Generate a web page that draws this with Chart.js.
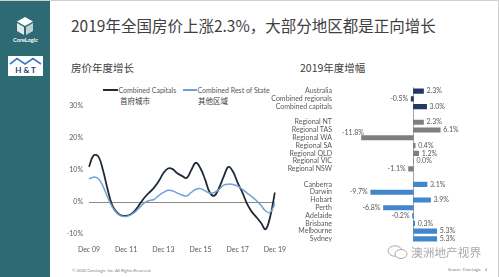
<!DOCTYPE html>
<html>
<head>
<meta charset="utf-8">
<script src="https://cdn.jsdelivr.net/npm/chart.js@4.4.1/dist/chart.umd.min.js"></script>
<style>
  html, body { margin: 0; padding: 0; }
  body { width: 499px; height: 277px; position: relative; overflow: hidden; background: #fff; font-family: Lato, "Noto Sans CJK SC", sans-serif; }
  .abs { position: absolute; white-space: nowrap; }
  #sidebar { left: 0; top: 0; width: 50px; height: 277px; background: #2d6a73; }
  #frame { left: 0; top: 0; border-top: 1px solid #cfcfcf; border-right: 1px solid #cfcfcf; box-sizing: border-box; width: 499px; height: 277px; pointer-events: none; }
  #title { left: 71px; top: 14px; font-family: "Noto Sans CJK SC", sans-serif; font-size: 15.5px; color: #404040; line-height: 22px; }
  .sub { font-family: "Noto Sans CJK SC", sans-serif; font-size: 10.5px; color: #404040; line-height: 14px; }
  .leg { font-size: 7px; color: #595959; line-height: 9px; }
  .legcn { font-family: "Noto Sans CJK SC", sans-serif; font-size: 7.5px; color: #404040; line-height: 10px; }
  .swatch { height: 2px; }
  .foot { font-size: 4.2px; color: #7f7f7f; line-height: 6px; }
  #wm { left: 411px; top: 244px; font-family: "Noto Sans CJK SC", sans-serif; font-size: 11.7px; color: #a8a8a8; line-height: 16px; }
</style>
</head>
<body>
<div id="sidebar" class="abs"></div>
<svg class="abs" style="left:16px;top:17px" width="18" height="19" viewBox="0 0 18 19">
  <polygon points="9,0 17,4.5 9,9 1,4.5" fill="#fff"/>
  <polygon points="1,6 8,10 8,18 1,14" fill="#fff" opacity="0.85"/>
  <polygon points="10,10 17,6 17,14 10,18" fill="#fff" opacity="0.7"/>
</svg>
<div class="abs" style="left:9px;top:36px;font-size:5.6px;color:#fff;font-weight:bold;line-height:8px;width:33px;text-align:center">CoreLogic</div>
<div class="abs" style="left:8px;top:56px;width:35px;height:20px;background:#fff"></div>
<svg class="abs" style="left:9px;top:57px" width="33" height="8" viewBox="0 0 33 8">
  <polyline points="1,7 8,1.5 16,7 24,1.5 32,7" fill="none" stroke="#3a7bc8" stroke-width="1.6"/>
</svg>
<div class="abs" style="left:8px;top:65px;width:35px;text-align:center;font-size:8px;font-weight:bold;color:#1f3864;line-height:10px">H &amp; T</div>

<div id="title" class="abs">2019年全国房价上涨2.3%，大部分地区都是正向增长</div>
<div class="abs sub" style="left:71px;top:61px">房价年度增长</div>
<div class="abs sub" style="left:300px;top:61px">2019年度增幅</div>

<div class="abs swatch" style="left:103px;top:89px;width:15px;background:#1f2b3a"></div>
<div class="abs leg" style="left:118.5px;top:85.5px">Combined Capitals</div>
<div class="abs swatch" style="left:183px;top:89px;width:14px;background:#6fa0d8"></div>
<div class="abs leg" style="left:197.5px;top:85.5px">Combined Rest of State</div>
<div class="abs legcn" style="left:120px;top:96px">首府城市</div>
<div class="abs legcn" style="left:198px;top:96px">其他区域</div>

<canvas id="lineChart" class="abs" style="left:40px;top:96px" width="250" height="160"></canvas>
<canvas id="barChart" class="abs" style="left:260px;top:80px" width="239" height="170"></canvas>

<div class="abs foot" style="left:72px;top:268px">© 2020 CoreLogic, Inc. All Rights Reserved.</div>
<div class="abs foot" style="left:448px;top:267px">Source: CoreLogic</div>
<div class="abs foot" style="left:485px;top:267px">4</div>
<svg class="abs" style="left:387px;top:245px" width="22" height="15" viewBox="0 0 22 15">
  <ellipse cx="8" cy="6" rx="7" ry="5.2" fill="none" stroke="#a8a8a8" stroke-width="1"/>
  <ellipse cx="14" cy="9" rx="6" ry="4.5" fill="#fff" stroke="#a8a8a8" stroke-width="1"/>
</svg>
<div id="wm" class="abs">澳洲地产视界</div>
<div id="frame" class="abs"></div>

<script>
// annual growth, quarterly, Dec 09 .. Dec 19
const periods = [
  "Dec 09", "Mar 10", "Jun 10", "Sep 10", "Dec 10", "Mar 11", "Jun 11", "Sep 11",
  "Dec 11", "Mar 12", "Jun 12", "Sep 12", "Dec 12", "Mar 13", "Jun 13", "Sep 13",
  "Dec 13", "Mar 14", "Jun 14", "Sep 14", "Dec 14", "Mar 15", "Jun 15", "Sep 15",
  "Dec 15", "Mar 16", "Jun 16", "Sep 16", "Dec 16", "Mar 17", "Jun 17", "Sep 17",
  "Dec 17", "Mar 18", "Jun 18", "Sep 18", "Dec 18", "Mar 19", "Jun 19", "Sep 19",
  "Dec 19"
];
const periodTicks = ["Dec 09", "Dec 11", "Dec 13", "Dec 15", "Dec 17", "Dec 19"];
const capitals = [
  11.0, 14.6, 14.3, 10.0, 4.0, -1.0, -3.2, -4.2,
  -4.3, -3.8, -2.5, -0.5, 1.5, 3.0, 4.5, 6.5,
  9.0, 10.5, 10.3, 9.0, 8.2, 7.5, 10.0, 12.3,
  10.5, 7.0, 3.0, 2.0, 4.5, 8.0, 11.0, 9.5,
  6.0, 3.0, -0.5, -3.0, -4.7, -6.5, -8.5, -4.5,
  3.0
];
const restOfState = [
  7.2, 7.8, 7.3, 5.0, 1.5, -1.5, -3.5, -4.4,
  -4.5, -4.0, -3.0, -1.5, -0.2, 0.5, 0.8, 2.0,
  3.0, 3.7, 3.5, 2.8, 2.2, 1.9, 3.0, 4.0,
  4.2, 3.5, 2.8, 3.0, 4.0, 5.3, 5.6, 5.5,
  5.0, 4.0, 2.8, 1.8, 0.5, -1.0, -2.8, -3.2,
  -0.5
];
const lineTicks = [-10, 0, 10, 20, 30];

// 2019 change, blank rows separate the groups
const barCategories = [
  "Australia", "Combined regionals", "Combined capitals", "",
  "Regional NT", "Regional TAS", "Regional WA", "Regional SA", "Regional QLD", "Regional VIC", "Regional NSW", "",
  "Canberra", "Darwin", "Hobart", "Perth", "Adelaide", "Brisbane", "Melbourne", "Sydney"
];
const barValues = [
  2.3, -0.5, 3.0, null,
  2.3, 6.1, -11.8, 0.4, 1.2, 0.0, -1.1, null,
  3.1, -9.7, 3.9, -6.8, -0.2, 0.3, 5.3, 5.3
];
const barGroups = [
  "total", "total", "total", null,
  "regional", "regional", "regional", "regional", "regional", "regional", "regional", null,
  "capital", "capital", "capital", "capital", "capital", "capital", "capital", "capital"
];

const groupColors = { total: "#1f3864", regional: "#7f7f7f", capital: "#4287cc" };
const tickFont = { family: "Lato", size: 7 };
const textColor = "#595959";

new Chart(document.getElementById("lineChart"), {
  type: "line",
  data: {
    labels: periods,
    datasets: [
      { label: "Combined Rest of State", data: restOfState, borderColor: "#6fa0d8", borderWidth: 1.5, tension: 0.4, pointRadius: 0 },
      { label: "Combined Capitals", data: capitals, borderColor: "#1f2b3a", borderWidth: 1.8, tension: 0.4, pointRadius: 0 }
    ]
  },
  options: {
    responsive: false,
    animation: false,
    devicePixelRatio: 1,
    layout: { padding: { top: 10, right: 12, left: 0, bottom: 0 } },
    plugins: { legend: { display: false }, tooltip: { enabled: false } },
    scales: {
      x: {
        grid: { display: false },
        border: { display: false },
        ticks: {
          autoSkip: false, maxRotation: 0, padding: 4, font: tickFont, color: textColor,
          callback: (v, i) => periodTicks.includes(periods[i]) ? periods[i] : ""
        },
        afterFit: (s) => { s.height = 22; }
      },
      y: {
        min: lineTicks[0],
        max: lineTicks[lineTicks.length - 1],
        afterBuildTicks: (s) => { s.ticks = lineTicks.map(v => ({ value: v })); },
        grid: {
          drawTicks: false,
          color: (c) => c.tick && c.tick.value === 0 ? "#8a8a8a" : "rgba(0,0,0,0)",
          lineWidth: 1
        },
        border: { display: false },
        ticks: { padding: 6, font: tickFont, color: textColor, callback: (v) => v + "%" },
        afterFit: (s) => { s.width = 49; }
      }
    }
  }
});

const barLabelPlugin = {
  id: "barLabels",
  beforeDatasetsDraw(chart) {
    const { ctx, chartArea, scales } = chart;
    const x0 = Math.round(scales.x.getPixelForValue(0)) + 0.5;
    ctx.save();
    ctx.strokeStyle = "#a6a6a6";
    ctx.lineWidth = 1;
    ctx.beginPath();
    ctx.moveTo(x0, chartArea.top);
    ctx.lineTo(x0, chartArea.bottom - 2);
    ctx.stroke();
    ctx.restore();
  },
  afterDatasetsDraw(chart) {
    const { ctx, chartArea, scales } = chart;
    ctx.save();
    ctx.font = "7px Lato";
    ctx.fillStyle = textColor;
    ctx.textBaseline = "middle";
    barValues.forEach((v, i) => {
      if (v === null) return;
      const xEnd = scales.x.getPixelForValue(v);
      const y = scales.y.getPixelForValue(i);
      const txt = v.toFixed(1) + "%";
      if (v >= 0) {
        ctx.textAlign = "left";
        ctx.fillText(txt, xEnd + 3, y);
      } else {
        const w = ctx.measureText(txt).width;
        ctx.textAlign = "right";
        if (xEnd - 3 - w < chartArea.left) {
          ctx.fillText(txt, xEnd + 2.5, y - 5.5);
        } else {
          ctx.fillText(txt, xEnd - 3, y);
        }
      }
    });
    ctx.restore();
  }
};

new Chart(document.getElementById("barChart"), {
  type: "bar",
  data: {
    labels: barCategories,
    datasets: [{
      data: barValues,
      backgroundColor: barGroups.map(g => g ? groupColors[g] : "rgba(0,0,0,0)"),
      barThickness: 4.5
    }]
  },
  options: {
    indexAxis: "y",
    responsive: false,
    animation: false,
    devicePixelRatio: 1,
    layout: { padding: { top: 6, right: 50.4, left: 0, bottom: 6.5 } },
    plugins: { legend: { display: false }, tooltip: { enabled: false } },
    scales: {
      x: { display: false, min: -16, max: 8 },
      y: {
        grid: { display: false },
        border: { display: false },
        ticks: { autoSkip: false, padding: 3, font: tickFont, color: textColor },
        afterFit: (s) => { s.width = 83; }
      }
    }
  },
  plugins: [barLabelPlugin]
});
</script>
</body>
</html>
